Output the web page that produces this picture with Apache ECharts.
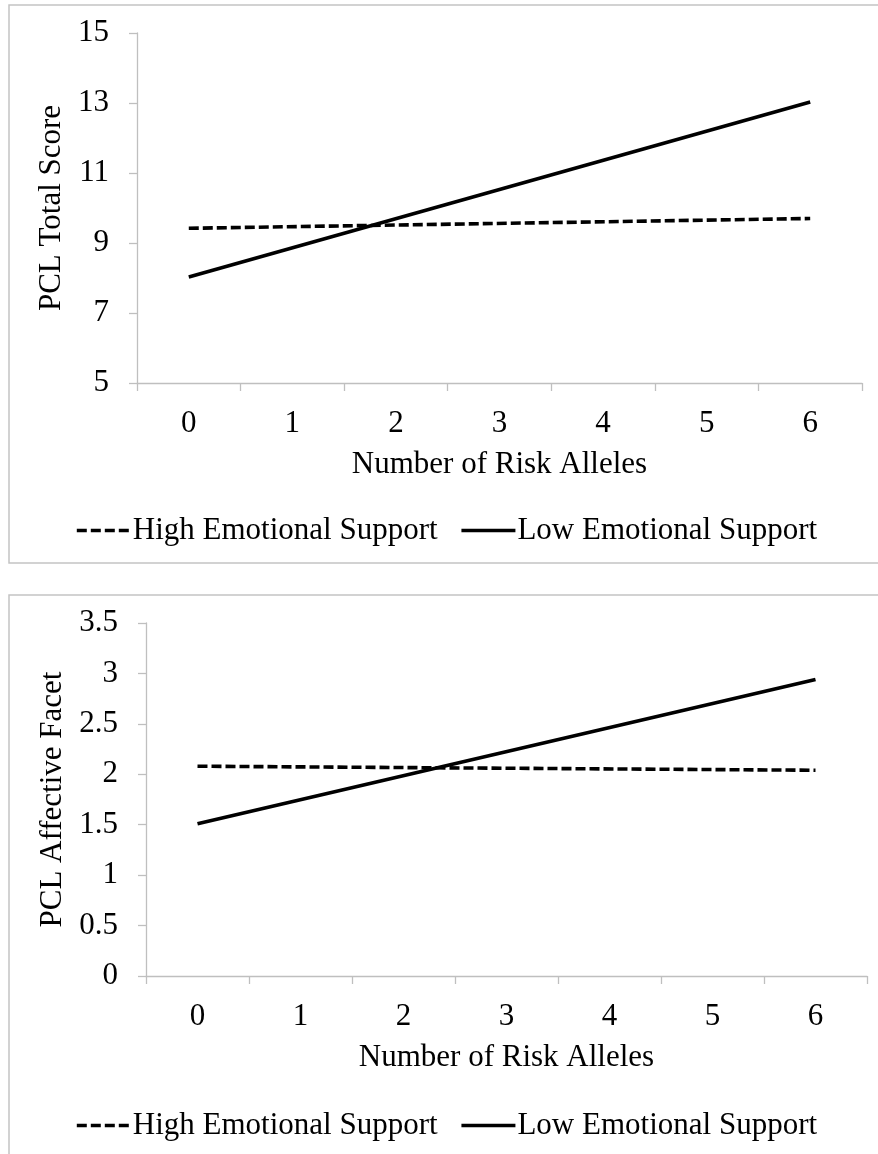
<!DOCTYPE html>
<html>
<head>
<meta charset="utf-8">
<script src="https://cdn.jsdelivr.net/npm/echarts@6/dist/echarts.min.js"></script>
<style>
html,body{margin:0;padding:0;background:#fff;}
#chart{width:878px;height:1154px;}
</style>
</head>
<body>
<div id="chart"></div>
<script>
// ---- data ----
var categories = ['0', '1', '2', '3', '4', '5', '6'];
var seriesNames = ['High Emotional Support', 'Low Emotional Support'];
// Panel 1: PCL Total Score (lines defined at 0 and 6 risk alleles)
var totalHigh = [9.42, null, null, null, null, null, 9.70];
var totalLow  = [8.03, null, null, null, null, null, 13.03];
// Panel 2: PCL Affective Facet
var affHigh = [2.08, null, null, null, null, null, 2.04];
var affLow  = [1.51, null, null, null, null, null, 2.94];
var yTitles = ['PCL Total Score', 'PCL Affective Facet'];
var xTitle = 'Number of Risk Alleles';

var FONT = '"Liberation Serif", "Times New Roman", serif';
var FS = 31;
var AX = '#bfbfbf';

function xAxisCfg(gi) {
  return {
    type: 'category', gridIndex: gi, data: categories, boundaryGap: true,
    axisLine: {show: true, lineStyle: {color: AX, width: 1.3}},
    axisTick: {show: true, length: 8, lineStyle: {color: AX, width: 1.3}},
    axisLabel: {color: '#000', fontFamily: FONT, fontSize: FS, margin: 25},
    splitLine: {show: false},
    name: xTitle, nameLocation: 'middle', nameGap: 66,
    nameTextStyle: {color: '#000', fontFamily: FONT, fontSize: FS}
  };
}
function yAxisCfg(gi, min, max, interval, gap) {
  return {
    type: 'value', gridIndex: gi, min: min, max: max, interval: interval,
    axisLine: {show: true, lineStyle: {color: AX, width: 1.3}},
    axisTick: {show: true, length: 8, lineStyle: {color: AX, width: 1.3}},
    axisLabel: {color: '#000', fontFamily: FONT, fontSize: FS, margin: 28},
    splitLine: {show: false},
    name: yTitles[gi], nameLocation: 'middle', nameRotate: 90, nameGap: gap,
    nameTextStyle: {color: '#000', fontFamily: FONT, fontSize: FS}
  };
}
function lineSeries(name, gi, data, dashed) {
  return {
    type: 'line', name: name, xAxisIndex: gi, yAxisIndex: gi, data: data,
    connectNulls: true, symbol: 'none', silent: true, animation: false,
    lineStyle: {color: '#000', width: 3.6, type: dashed ? [10, 4] : 'solid', cap: 'butt'},
    itemStyle: {color: '#000'}
  };
}
function legendCfg(top) {
  return {
    left: 70, top: top, itemWidth: 54, itemHeight: 14, itemGap: 22,
    data: seriesNames.map(function (n) { return {name: n}; }),
    itemStyle: {opacity: 0},
    lineStyle: {width: 3.6},
    textStyle: {color: '#000', fontFamily: FONT, fontSize: FS, padding: [0, 0, 0, -3]},
    selectedMode: false
  };
}

var chart = echarts.init(document.getElementById('chart'), null, {renderer: 'canvas'});
chart.setOption({
  animation: false,
  backgroundColor: '#fff',
  graphic: [
    {type: 'rect', shape: {x: 9, y: 5, width: 900, height: 558}, style: {fill: 'none', stroke: '#c4c4c4', lineWidth: 1.5}, z: -1},
    {type: 'rect', shape: {x: 9, y: 595, width: 900, height: 620}, style: {fill: 'none', stroke: '#c4c4c4', lineWidth: 1.5}, z: -1}
  ],
  grid: [
    {left: 137, right: 16, top: 33, height: 350},
    {left: 146, right: 11, top: 623, height: 353}
  ],
  xAxis: [xAxisCfg(0), xAxisCfg(1)],
  yAxis: [yAxisCfg(0, 5, 15, 2, 68), yAxisCfg(1, 0, 3.5, 0.5, 74)],
  legend: [legendCfg(510), legendCfg(1105)],
  series: [
    lineSeries(seriesNames[0], 0, totalHigh, true),
    lineSeries(seriesNames[1], 0, totalLow, false),
    lineSeries(seriesNames[0], 1, affHigh, true),
    lineSeries(seriesNames[1], 1, affLow, false)
  ]
});
</script>
</body>
</html>
